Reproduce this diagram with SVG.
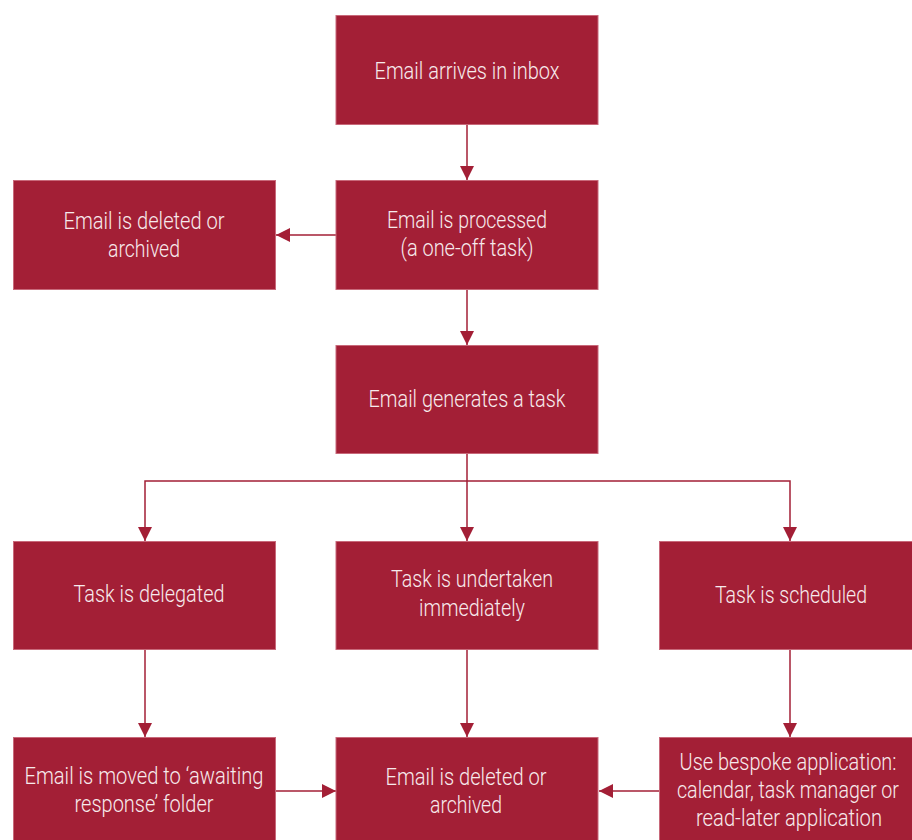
<svg xmlns="http://www.w3.org/2000/svg" width="912" height="840" viewBox="0 0 912 840">
<defs>
<marker id="ah" markerWidth="14" markerHeight="14" viewBox="0 0 14 14" refX="14" refY="7" orient="auto" markerUnits="userSpaceOnUse">
<path d="M0,0 L14,7 L0,14 Z" fill="#A31F36"/>
</marker>
<style>
.box{fill:#A31F36;stroke:#C8697A;stroke-width:1}
.t{font-family:Roboto,"Liberation Sans",sans-serif;font-weight:300;font-size:23px;fill:#F7EAEC;text-anchor:middle}
.c{fill:none;stroke:#A31F36;stroke-width:1.5}
</style>
</defs>
<rect width="912" height="840" fill="#FFFFFF"/>
<g id="connectors">
<path class="c" d="M467,124 V180" marker-end="url(#ah)"/>
<path class="c" d="M336,235 H276" marker-end="url(#ah)"/>
<path class="c" d="M467,289 V345" marker-end="url(#ah)"/>
<path class="c" d="M467,453 V541" marker-end="url(#ah)"/>
<path class="c" d="M467,481 H145 V541" marker-end="url(#ah)"/>
<path class="c" d="M467,481 H790 V541" marker-end="url(#ah)"/>
<path class="c" d="M145,649 V737" marker-end="url(#ah)"/>
<path class="c" d="M467,649 V737" marker-end="url(#ah)"/>
<path class="c" d="M790,649 V737" marker-end="url(#ah)"/>
<path class="c" d="M275,791 H336" marker-end="url(#ah)"/>
<path class="c" d="M659,791 H599" marker-end="url(#ah)"/>
</g>
<g id="n1">
<rect class="box" x="336" y="15.5" width="262" height="109"/>
<text class="t" x="467" y="79" textLength="185" lengthAdjust="spacingAndGlyphs">Email arrives in inbox</text>
</g>
<g id="n2">
<rect class="box" x="13.5" y="180.5" width="262" height="109"/>
<text class="t" x="144" y="229" textLength="161" lengthAdjust="spacingAndGlyphs">Email is deleted or</text>
<text class="t" x="144" y="257" textLength="72" lengthAdjust="spacingAndGlyphs">archived</text>
</g>
<g id="n3">
<rect class="box" x="336" y="180.5" width="262" height="109"/>
<text class="t" x="467" y="228" textLength="160" lengthAdjust="spacingAndGlyphs">Email is processed</text>
<text class="t" x="467" y="256" textLength="133" lengthAdjust="spacingAndGlyphs">(a one-off task)</text>
</g>
<g id="n4">
<rect class="box" x="336" y="345.5" width="262" height="108"/>
<text class="t" x="467" y="407" textLength="197" lengthAdjust="spacingAndGlyphs">Email generates a task</text>
</g>
<g id="n5">
<rect class="box" x="13.5" y="541.5" width="262" height="108"/>
<text class="t" x="149" y="602" textLength="151" lengthAdjust="spacingAndGlyphs">Task is delegated</text>
</g>
<g id="n6">
<rect class="box" x="336" y="541.5" width="262" height="108"/>
<text class="t" x="472" y="587" textLength="162" lengthAdjust="spacingAndGlyphs">Task is undertaken</text>
<text class="t" x="472" y="616" textLength="106" lengthAdjust="spacingAndGlyphs">immediately</text>
</g>
<g id="n7">
<rect class="box" x="659.5" y="541.5" width="262" height="108"/>
<text class="t" x="791" y="603" textLength="152" lengthAdjust="spacingAndGlyphs">Task is scheduled</text>
</g>
<g id="n8">
<rect class="box" x="13.5" y="737.5" width="262" height="109"/>
<text class="t" x="144" y="784" textLength="239" lengthAdjust="spacingAndGlyphs">Email is moved to ‘awaiting</text>
<text class="t" x="144" y="812" textLength="139" lengthAdjust="spacingAndGlyphs">response’ folder</text>
</g>
<g id="n9">
<rect class="box" x="336" y="737.5" width="262" height="109"/>
<text class="t" x="466" y="785" textLength="161" lengthAdjust="spacingAndGlyphs">Email is deleted or</text>
<text class="t" x="466" y="813" textLength="72" lengthAdjust="spacingAndGlyphs">archived</text>
</g>
<g id="n10">
<rect class="box" x="659.5" y="737.5" width="262" height="109"/>
<text class="t" x="788" y="770" textLength="217" lengthAdjust="spacingAndGlyphs">Use bespoke application:</text>
<text class="t" x="788" y="798" textLength="222" lengthAdjust="spacingAndGlyphs">calendar, task manager or</text>
<text class="t" x="789" y="826" textLength="186" lengthAdjust="spacingAndGlyphs">read-later application</text>
</g>
</svg>
